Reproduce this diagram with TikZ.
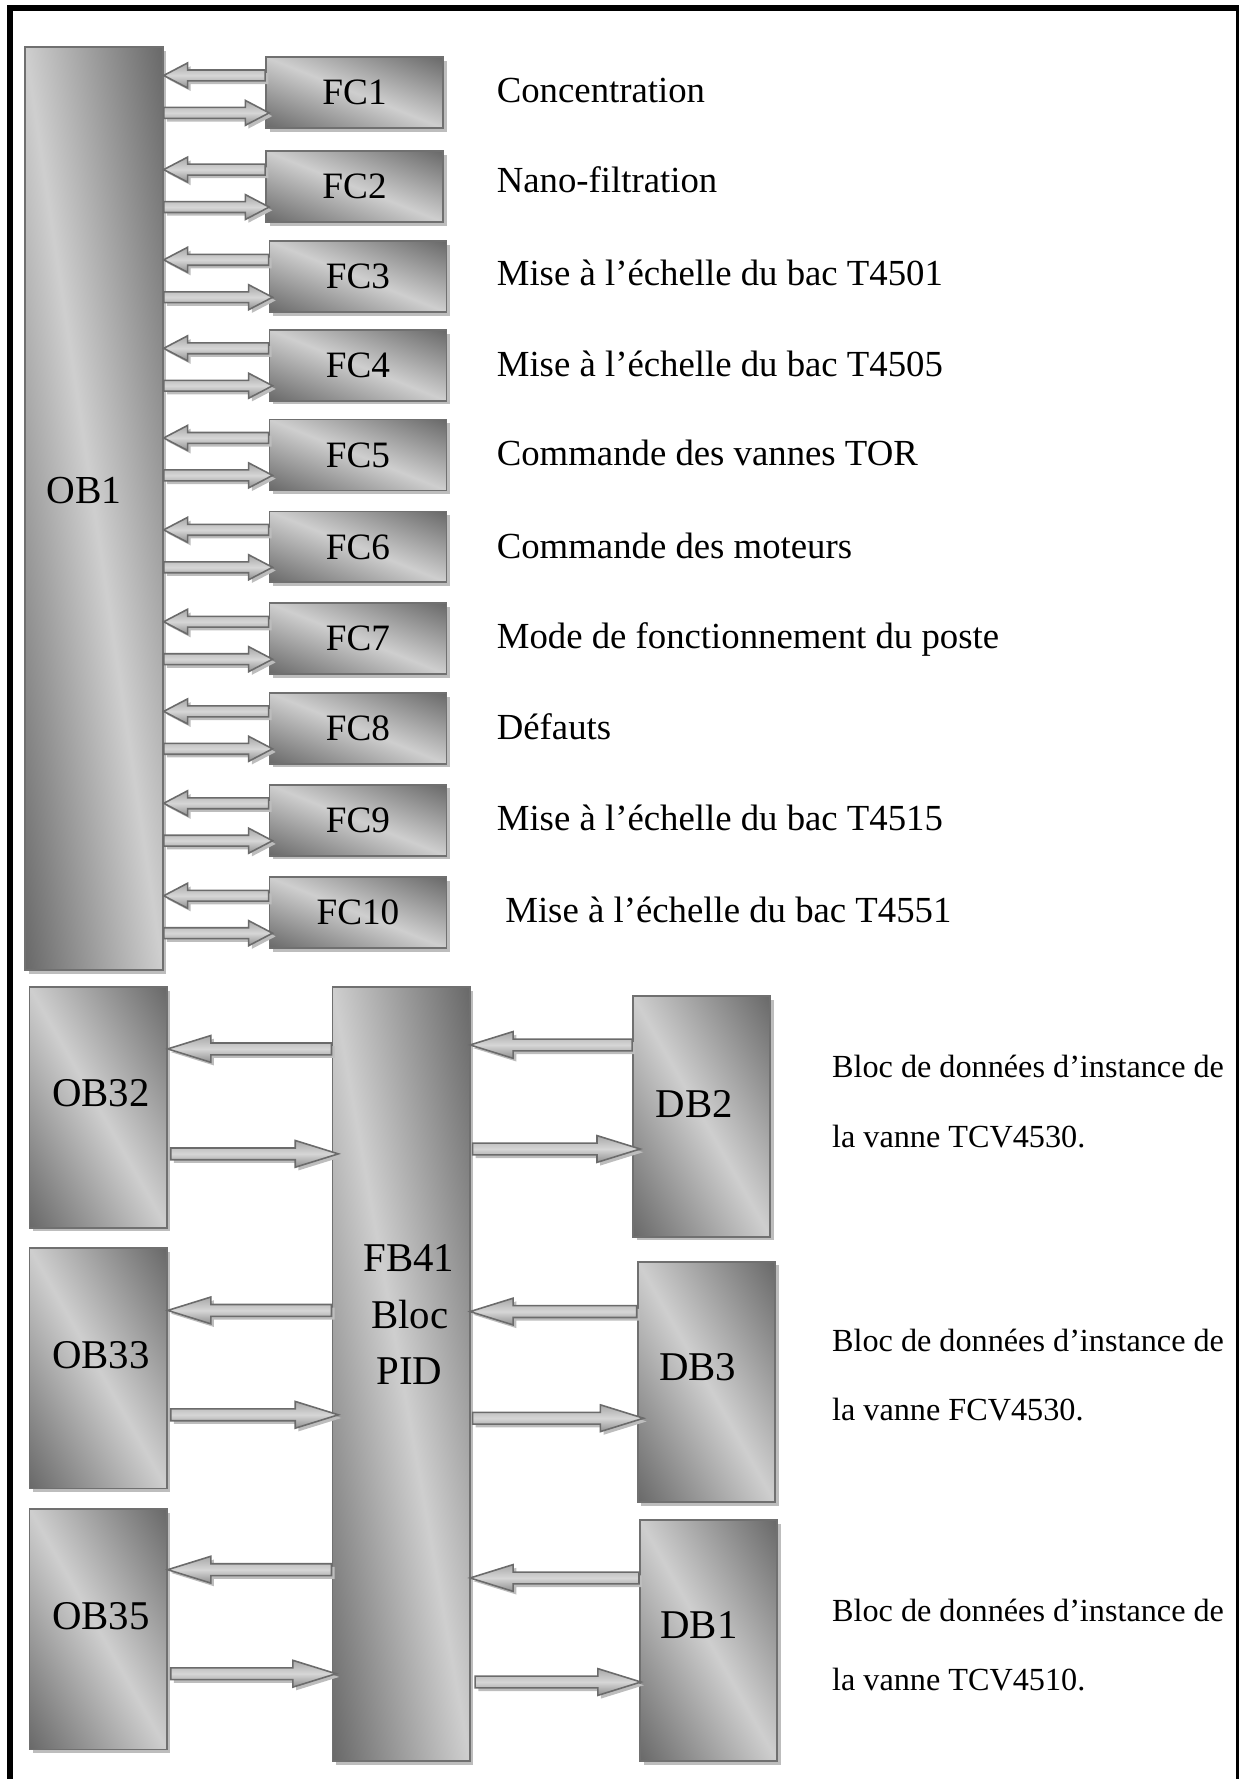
\documentclass[tikz,border=0pt]{standalone}
\usepackage{fontspec}
\setmainfont{Liberation Serif}
\usetikzlibrary{calc,shadows}

\definecolor{boxlight}{gray}{0.81}
\definecolor{boxdark}{gray}{0.41}
\definecolor{boxline}{gray}{0.44}
\definecolor{shadowgray}{gray}{0.74}
\definecolor{arrowline}{gray}{0.42}
\definecolor{arrowtop}{gray}{0.66}
\definecolor{arrowmid}{gray}{0.84}
\definecolor{arrowbot}{gray}{0.56}

% diagonal fill: dark in the lower-left and upper-right corners, light along the other diagonal
\pgfdeclarehorizontalshading{diagfill}{100pt}{color(0pt)=(boxdark); color(50pt)=(boxlight); color(100pt)=(boxdark)}

% the shading is centred on the origin; map it onto the block, turned by 45 degrees
\newcommand\diagshade{%
  \pgfpointanchor{path picture bounding box}{south west}\pgfgetlastxy{\dsx}{\dsy}%
  \pgfpointanchor{path picture bounding box}{north east}\pgfgetlastxy{\dex}{\dey}%
  \pgfmathsetmacro\dsw{(\dex-\dsx)/100}%
  \pgfmathsetmacro\dsh{(\dey-\dsy)/100}%
  \begin{pgfscope}%
    \pgftransformcm{\dsw}{0}{0}{\dsh}{\pgfpoint{\dsx}{\dsy}}%
    \pgftransformshift{\pgfpoint{50pt}{50pt}}%
    \pgftransformrotate{45}%
    \pgftransformscale{1.4143}%
    \pgflowlevelsynccm
    \pgfuseshading{diagfill}%
  \end{pgfscope}}

\newcommand\fcfont{\fontsize{16.4}{18}\selectfont}
\newcommand\lblfont{\fontsize{16.2}{18}\selectfont}
\newcommand\obfont{\fontsize{17.5}{19}\selectfont}
\newcommand\bigfont{\fontsize{18}{20}\selectfont}
\newcommand\notefont{\fontsize{14.2}{16}\selectfont}

\tikzset{
  frame/.style={line width=2.8pt, line join=miter},
  gbox/.style={rectangle, draw=boxline, line width=0.8pt, inner sep=0pt,
    fill=boxlight, path picture={\diagshade},
    drop shadow={shadow xshift=1.6pt, shadow yshift=-1.6pt, fill=shadowgray, opacity=1}},
  fcbox/.style={gbox, minimum width=78pt, minimum height=31.25pt, font=\fcfont},
  lbl/.style={anchor=base west, inner sep=0pt, font=\lblfont},
  note/.style={anchor=base west, inner sep=0pt, font=\notefont},
  bigtxt/.style={anchor=base, inner sep=0pt, font=\bigfont},
  flowarrow/.style={draw=arrowline, line width=0.7pt, line join=miter,
    top color=arrowtop, bottom color=arrowbot, middle color=arrowmid,
    drop shadow={shadow xshift=1.4pt, shadow yshift=-1.4pt, fill=shadowgray, opacity=1}},
  small head/.style={/utils/exec={\def\ash{2.4pt}\def\ahw{5.5pt}\def\ahl{10.5pt}}},
  large head/.style={/utils/exec={\def\ash{2.6pt}\def\ahw{5.9pt}\def\ahl{19pt}}},
}

% block with corners (x1,y1) and (x2,y2): name, x1, y1, x2, y2, text
\newcommand\shadedblock[6]{%
  \node[gbox, minimum width={(#4-#2)*0.5pt}, minimum height={(#5-#3)*0.5pt}]
    (#1) at ({(#2+#4)/2},{(#3+#5)/2}) {#6};}

% horizontal block arrow: tail anchor, tail dx, tip anchor, tip dx, y, head style
\newcommand\flow[6]{%
  \path[flowarrow,#6] let \p1=($(#1)+(#2,0)$), \p2=($(#3)+(#4,0)$), \p3=(0,#5),
      \n1={sign(\x2-\x1)} in
    ({\x1},{\y3+\ash}) -- ({\x2-(\n1)*\ahl},{\y3+\ash}) -- ({\x2-(\n1)*\ahl},{\y3+\ahw})
    -- ({\x2},{\y3}) -- ({\x2-(\n1)*\ahl},{\y3-\ahw}) -- ({\x2-(\n1)*\ahl},{\y3-\ash})
    -- ({\x1},{\y3-\ash}) -- cycle;}

\begin{document}
\begin{tikzpicture}[x=0.5pt,y=-0.5pt]
\useasboundingbox (0,0) rectangle (1092,1568);

% outer frame, open at the bottom
\draw[frame] (8.8,1590) -- (8.8,7) -- (1092,7) -- (1092,1590);

% organisation block OB1 and its functions
\shadedblock{OB1}{22}{41.5}{143.5}{855}{}
\node[bigtxt, font=\obfont] (OB1t) at (74,444) {OB1};

\foreach \i/\c/\xa in {1/81.5/234.5, 2/164.5/234.5, 3/244/237.5, 4/322/237.5,
    5/401/237.5, 6/482/237.5, 7/563/237.5, 8/642/237.5, 9/723/237.5, 10/804.5/237.5}{
  \node[fcbox] (FC\i) at ({\xa+78},\c) {FC\i};
}

\node[lbl] (L1) at (437.5,90) {Concentration};
\node[lbl] (L2) at (437.5,170) {Nano-filtration};
\node[lbl] (L3) at (437.5,252) {Mise à l’échelle du bac T4501};
\node[lbl] (L4) at (437.5,332) {Mise à l’échelle du bac T4505};
\node[lbl] (L5) at (437.5,410) {Commande des vannes TOR};
\node[lbl] (L6) at (437.5,492) {Commande des moteurs};
\node[lbl] (L7) at (437.5,572) {Mode de fonctionnement du poste};
\node[lbl] (L8) at (437.5,652) {Défauts};
\node[lbl] (L9) at (437.5,732) {Mise à l’échelle du bac T4515};
\node[lbl] (L10) at (445,813) {Mise à l’échelle du bac T4551};

% calls between OB1 and the functions
\foreach \i/\c in {1/81.5, 2/164.5, 3/244, 4/322, 5/401, 6/482, 7/563, 8/642, 9/723, 10/804.5}{
  \flow{FC\i.west}{0}{OB1.east}{0}{\c-15}{small head}
  \flow{OB1.east}{0}{FC\i.west}{3.5}{\c+18}{small head}
}

% cyclic interrupt blocks, PID block and instance data blocks
\shadedblock{OB32}{26}{870}{147}{1082}{}
\shadedblock{OB33}{26}{1100}{147}{1312}{}
\shadedblock{OB35}{26}{1330}{147}{1542}{}
\shadedblock{FB41}{293}{870}{414}{1552}{}
\shadedblock{DB2}{558}{878}{679}{1090}{}
\shadedblock{DB3}{562}{1112}{683}{1324}{}
\shadedblock{DB1}{564}{1340}{685}{1552}{}

\node[bigtxt] (OB32t) at (89,975) {OB32};
\node[bigtxt] (OB33t) at (89,1206) {OB33};
\node[bigtxt] (OB35t) at (89,1436.5) {OB35};
\node[bigtxt] (FB41a) at (360.5,1120.8) {FB41};
\node[bigtxt] (FB41b) at (361,1170.7) {Bloc};
\node[bigtxt] (FB41c) at (361,1220.7) {PID};
\node[bigtxt] (DB2t) at (612,985) {DB2};
\node[bigtxt] (DB3t) at (615,1217) {DB3};
\node[bigtxt] (DB1t) at (616,1444) {DB1};

\flow{FB41.west}{0}{OB32.east}{0}{924.5}{large head}
\flow{OB32.east}{2.7}{FB41.west}{6}{1017}{large head}
\flow{DB2.west}{0}{FB41.east}{-0.5}{921}{large head}
\flow{FB41.east}{1.7}{DB2.west}{7}{1012.7}{large head}

\flow{FB41.west}{0}{OB33.east}{0}{1155}{large head}
\flow{OB33.east}{2.7}{FB41.west}{6}{1247}{large head}
\flow{DB3.west}{0}{FB41.east}{-0.5}{1156}{large head}
\flow{FB41.east}{1.7}{DB3.west}{6}{1250}{large head}

\flow{FB41.west}{0}{OB35.east}{0}{1383.5}{large head}
\flow{OB35.east}{2.7}{FB41.west}{4}{1475.2}{large head}
\flow{DB1.west}{0}{FB41.east}{-0.5}{1390.8}{large head}
\flow{FB41.east}{4}{DB1.west}{1.7}{1482.5}{large head}

\node[note] (N1a) at (733,950) {Bloc de données d’instance de};
\node[note] (N1b) at (733,1011) {la vanne TCV4530.};
\node[note] (N2a) at (733,1191) {Bloc de données d’instance de};
\node[note] (N2b) at (733,1252) {la vanne FCV4530.};
\node[note] (N3a) at (733,1429) {Bloc de données d’instance de};
\node[note] (N3b) at (733,1490) {la vanne TCV4510.};
\end{tikzpicture}
\end{document}
